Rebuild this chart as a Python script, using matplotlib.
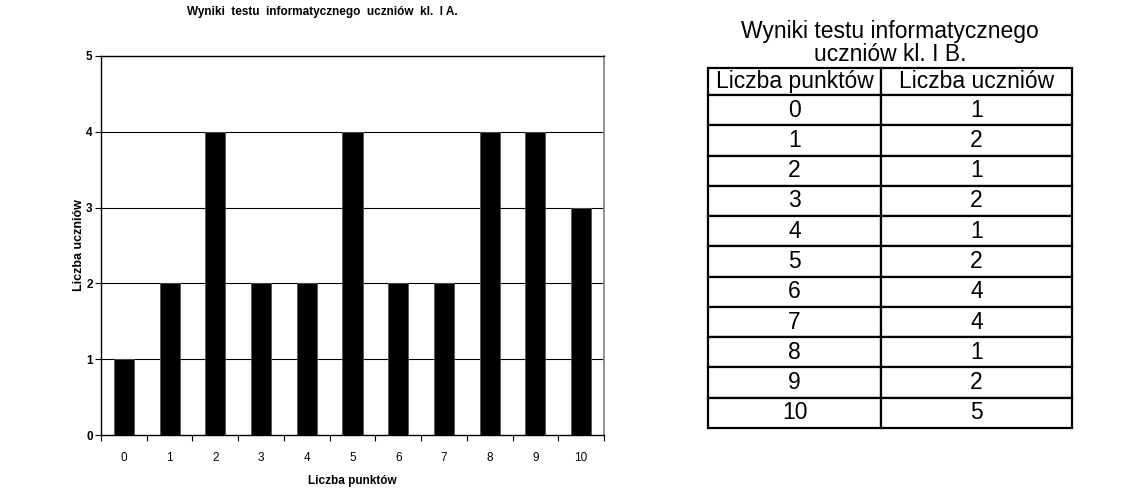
import matplotlib
matplotlib.use("Agg")
import matplotlib.pyplot as plt
import numpy as np

plt.rcParams['font.family'] = ['Liberation Sans', 'DejaVu Sans']

# Class I A (bar chart)
points_a = [0, 1, 2, 3, 4, 5, 6, 7, 8, 9, 10]
students_a = [1, 2, 4, 2, 2, 4, 2, 2, 4, 4, 3]
title_a = "Wyniki  testu  informatycznego  uczniów  kl.  I A."
xlabel_a = "Liczba punktów"
ylabel_a = "Liczba uczniów"
yticks_a = [0, 1, 2, 3, 4, 5]

# Class I B (table)
points_b = ["0", "1", "2", "3", "4", "5", "6", "7", "8", "9", "10"]
students_b = ["1", "2", "1", "2", "1", "2", "4", "4", "1", "2", "5"]
col_labels_b = ["Liczba punktów", "Liczba uczniów"]
title_b = "Wyniki testu informatycznego\nuczniów kl. I B."

W, H = 1127, 488
fig = plt.figure(figsize=(W / 100, H / 100), dpi=100)

def fx(px):
    return px / W

def fy(py):
    return 1 - py / H

# ---- bar chart ----
ax = fig.add_axes([fx(101), fy(435), fx(604) - fx(101), fy(56) - fy(435)])
x = np.arange(len(points_a))
ax.bar(x, students_a, width=0.44, color='black', edgecolor='#555555', linewidth=0.6, zorder=3)
ax.set_xlim(-0.5, len(points_a) - 0.5)
ax.set_ylim(0, 5)
ax.set_yticks(yticks_a)
ax.set_yticklabels([str(v) for v in yticks_a], fontsize=8.5, fontweight='bold')
ax.set_xticks(x)
ax.set_xticklabels([str(p) for p in points_a], fontsize=8.5)
ax.set_xticks(np.arange(-0.5, len(points_a), 1.0), minor=True)
ax.tick_params(axis='x', which='major', length=0, pad=12)
ax.tick_params(axis='x', which='minor', length=4, width=0.8, direction='out', color='black')
ax.tick_params(axis='y', length=4, width=0.8, direction='out', pad=2)
for yv in yticks_a[1:-1]:
    ax.axhline(yv, color='black', linewidth=0.8, zorder=1)
for side in ['left', 'bottom', 'top']:
    ax.spines[side].set_color('black')
    ax.spines[side].set_linewidth(1.0)
ax.spines['right'].set_color('#808080')
ax.spines['right'].set_linewidth(1.2)
ax.set_xlabel(xlabel_a, fontsize=8.5, fontweight='bold', labelpad=8)
ax.set_ylabel(ylabel_a, fontsize=9, fontweight='bold', labelpad=1)
fig.text(fx(322), fy(12), title_a, fontsize=8.5, fontweight='bold', ha='center', va='center')

# ---- table ----
tax = fig.add_axes([fx(708), fy(428), fx(1072) - fx(708), fy(68) - fy(428)])
tax.axis('off')
cell_text = [[p, s] for p, s in zip(points_b, students_b)]
tbl = tax.table(cellText=cell_text, colLabels=col_labels_b, cellLoc='center',
                colWidths=[173, 191], bbox=[0, 0, 1, 1])
tbl.auto_set_font_size(False)
for (r, c), cell in tbl.get_celld().items():
    cell.set_linewidth(1.6)
    cell.set_edgecolor('black')
    cell.set_height(27 if r == 0 else 30.3)
    cell.get_text().set_fontsize(16.5)
    cell.PAD = 0.02
fig.text(fx(890), fy(43), title_b, fontsize=16.5, ha='center', va='center', linespacing=0.95)

fig.savefig('out.png', dpi=100)
